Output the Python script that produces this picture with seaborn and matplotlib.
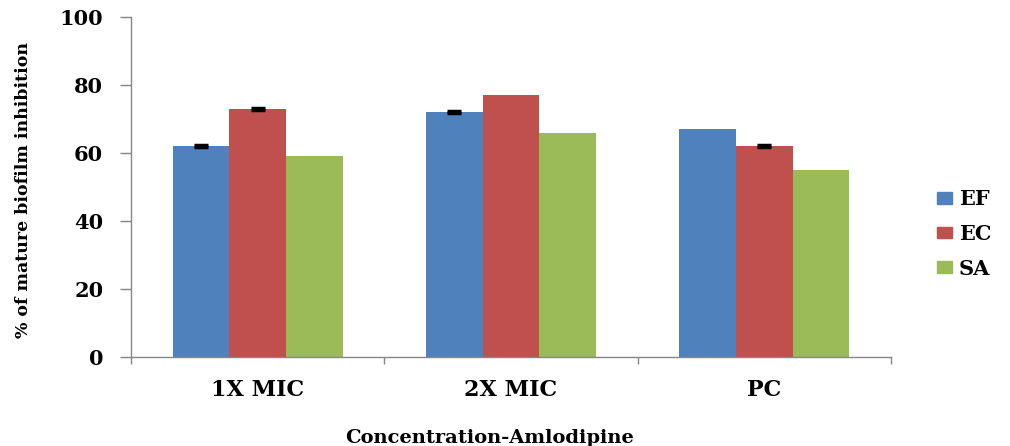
import pandas as pd
import matplotlib
matplotlib.use("Agg")
import matplotlib.pyplot as plt
import seaborn as sns

# chart values
concentrations = ["1X MIC", "2X MIC", "PC"]
strains = ["EF", "EC", "SA"]
ef_values = [62, 72, 67]
ec_values = [73, 77, 62]
sa_values = [59, 66, 55]
ef_errors = [0.3, 0.3, 0]
ec_errors = [0.3, 0, 0.3]
sa_errors = [0, 0, 0]
bar_colors = ["#4F81BD", "#C0504D", "#9BBB59"]

df = pd.DataFrame({
    "Concentration": concentrations * 3,
    "Strain": [s for s in strains for _ in concentrations],
    "Inhibition": ef_values + ec_values + sa_values,
})
errors = [ef_errors, ec_errors, sa_errors]

sns.set_style("white")
plt.rcParams["font.family"] = ["DejaVu Serif"]
plt.rcParams["font.weight"] = "bold"
plt.rcParams["text.color"] = "black"
plt.rcParams["xtick.labelcolor"] = "black"
plt.rcParams["ytick.labelcolor"] = "black"
plt.rcParams["axes.labelcolor"] = "black"

fig = plt.figure(figsize=(10.1, 4.46), dpi=100)
ax = fig.add_axes([131 / 1010, 1 - 357 / 446, 760 / 1010, 340 / 446])

sns.barplot(data=df, x="Concentration", y="Inhibition", hue="Strain",
            order=concentrations, hue_order=strains, palette=bar_colors,
            width=0.67, gap=0, saturation=1, errorbar=None, legend=False,
            linewidth=0, ax=ax)

# small error bars on top of some bars
for container, errs in zip(ax.containers, errors):
    for bar, e in zip(container, errs):
        if e > 0:
            xc = bar.get_x() + bar.get_width() / 2
            ax.errorbar(xc, bar.get_height(), yerr=e, fmt="none", ecolor="black",
                        elinewidth=2.5, capsize=5, capthick=2.5)

ax.set_ylim(0, 100)
ax.set_xlim(-0.5, 2.5)
ax.set_yticks([0, 20, 40, 60, 80, 100])
ax.tick_params(axis="y", labelsize=15, length=8, width=1, color="#868686",
               direction="out", pad=12, left=True)
ax.set_xticks([-0.5, 0.5, 1.5, 2.5], minor=True)
ax.tick_params(axis="x", which="major", length=0, labelsize=16, pad=16)
ax.tick_params(axis="x", which="minor", length=5, width=1, color="#868686",
               direction="out", bottom=True)
for lab in ax.get_xticklabels() + ax.get_yticklabels():
    lab.set_fontweight("bold")

for side in ["top", "right"]:
    ax.spines[side].set_visible(False)
for side in ["left", "bottom"]:
    ax.spines[side].set_color("#868686")
    ax.spines[side].set_linewidth(1)

ax.set_xlabel("Concentration-Amlodipine", fontsize=14, fontweight="bold")
ax.set_ylabel("% of mature biofilm inhibition", fontsize=12.5, fontweight="bold")
ax.xaxis.set_label_coords(0.472, -0.237)
ax.xaxis.label.set_verticalalignment("center")
ax.yaxis.set_label_coords(-0.142, 0.49)
ax.yaxis.label.set_verticalalignment("center")

handles = [plt.Rectangle((0, 0), 1, 1, color=c) for c in bar_colors]
ax.legend(handles, strains, loc="center left", bbox_to_anchor=(937 / 1010, 1 - 234 / 446),
          bbox_transform=fig.transFigure, frameon=False, borderpad=0, borderaxespad=0,
          handlelength=0.72, handleheight=0.48, handletextpad=0.34, labelspacing=0.7,
          prop={"size": 15, "weight": "bold"})

plt.savefig("out.png", dpi=100)
